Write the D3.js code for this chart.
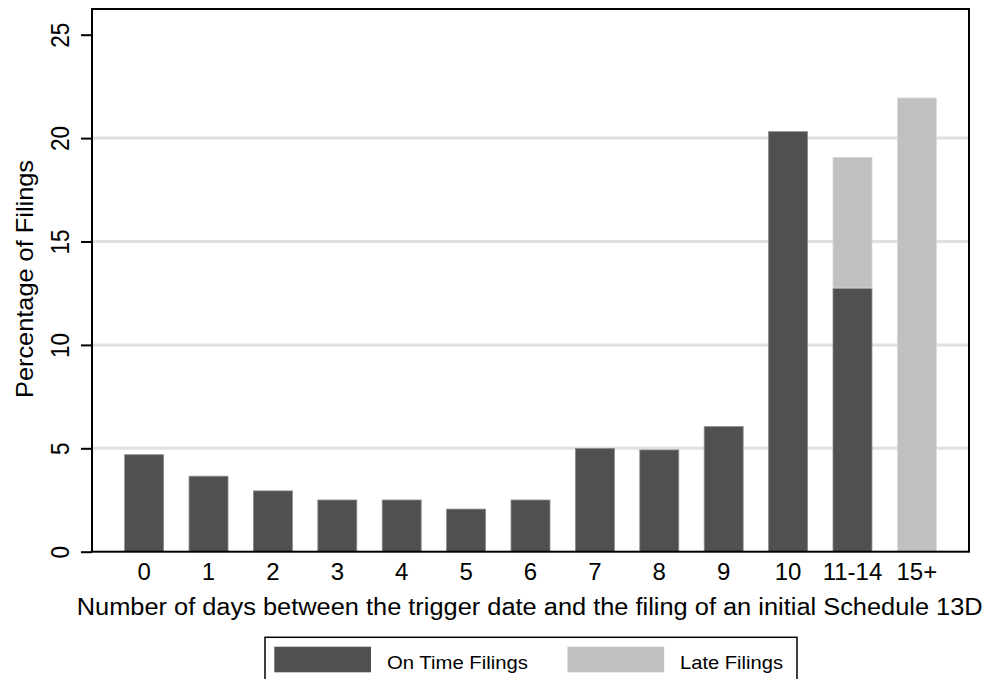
<!DOCTYPE html>
<html><head><meta charset="utf-8">
<script src="https://cdn.jsdelivr.net/npm/d3@7"></script>
<style>body{margin:0;background:#fff}svg{display:block;font-family:"Liberation Sans",Arial,sans-serif}</style>
</head><body><svg id="c" width="988" height="679"></svg>
<script>
const categories = ["0","1","2","3","4","5","6","7","8","9","10","11-14","15+"];
const onTime = [4.69,3.65,2.94,2.5,2.5,2.06,2.5,4.99,4.92,6.05,20.31,12.75,0];
const late   = [0,0,0,0,0,0,0,0,0,0,0,6.32,21.94];
const yTicks = [0,5,10,15,20,25];
const seriesNames = ["On Time Filings","Late Filings"];
const colors = ["#505050","#c0c0c0"];

const svg = d3.select("#c");
const L=92,R=969,T=9,B=551.7;
const x = d3.scaleBand().domain(categories).range([L,R]).paddingInner(0.395).paddingOuter(0.507);
const y = d3.scaleLinear().domain([0,25]).range([B,34.7]);

// gridlines
svg.append("g").selectAll("line").data(yTicks.filter(d=>d>0&&d<25)).join("line")
  .attr("x1",L).attr("x2",R).attr("y1",d=>y(d)).attr("y2",d=>y(d))
  .attr("stroke","#e0e0e0").attr("stroke-width",3);

const stacked = categories.map((c,i)=>({c, v:[onTime[i],late[i]]}));
const g = svg.append("g");
stacked.forEach(d=>{
  let base=0;
  d.v.forEach((v,k)=>{
    if(v>0){
      g.append("rect").attr("x",x(d.c)).attr("width",x.bandwidth())
        .attr("y",y(base+v)).attr("height",y(base)-y(base+v))
        .attr("fill",colors[k]).attr("stroke",k===0?"#8a8a8a":"#d8d8d8").attr("stroke-width",0.8);
    }
    base+=v;
  });
});

// frame
svg.append("rect").attr("x",L).attr("y",T).attr("width",R-L).attr("height",B-T)
  .attr("fill","none").attr("stroke","#000").attr("stroke-width",2);

// y axis
const ya = svg.append("g").attr("transform",`translate(${L},0)`)
  .call(d3.axisLeft(y).tickValues(yTicks).tickSize(11).tickFormat(d3.format("d")));
ya.select(".domain").remove();
ya.selectAll(".tick line").attr("stroke","#000").attr("stroke-width",2);
ya.selectAll(".tick text").attr("font-size",25).attr("fill","#000")
  .attr("text-anchor","middle").attr("x",null).attr("dy",null)
  .attr("transform","translate(-23,0) rotate(-90) scale(0.9,1)");

// x axis
const xa = svg.append("g").attr("transform",`translate(0,${B})`)
  .call(d3.axisBottom(x).tickSize(0).tickPadding(0));
xa.select(".domain").remove();
xa.selectAll(".tick text").attr("font-size",24).attr("fill","#000").attr("dy",null).attr("y",28.5);

svg.append("text").attr("x",76.7).attr("y",615).attr("font-size",23).attr("fill","#000")
  .attr("textLength",906).attr("lengthAdjust","spacingAndGlyphs")
  .text("Number of days between the trigger date and the filing of an initial Schedule 13D");
svg.append("text").attr("transform",`translate(33,398) rotate(-90)`)
  .attr("font-size",24.5).attr("fill","#000")
  .attr("textLength",238).attr("lengthAdjust","spacingAndGlyphs").text("Percentage of Filings");

// legend
const lg = svg.append("g");
lg.append("rect").attr("x",265).attr("y",637.3).attr("width",532).attr("height",50)
  .attr("fill","#fff").attr("stroke","#000").attr("stroke-width",1.5);
const lx=[274.3,567.5];
const tx=[387,680], tl=[141,103];
seriesNames.forEach((n,i)=>{
  lg.append("rect").attr("x",lx[i]).attr("y",646.7).attr("width",96.7).attr("height",25.6).attr("fill",colors[i]);
  lg.append("text").attr("x",tx[i]).attr("y",668.6).attr("font-size",19).attr("fill","#000")
    .attr("textLength",tl[i]).attr("lengthAdjust","spacingAndGlyphs").text(n);
});
</script></body></html>
